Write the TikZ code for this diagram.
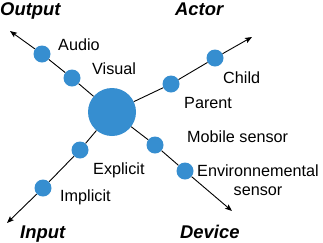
\documentclass[tikz,border=0pt]{standalone}
\usepackage{fontspec}
\setmainfont{Liberation Sans}
\usetikzlibrary{arrows.meta}
\definecolor{dotblue}{RGB}{54,142,208}

\begin{document}
\begin{tikzpicture}[x=1pt, y=-1pt,
    dot/.style={circle, fill=dotblue, inner sep=0pt, minimum size=17pt},
    hubdot/.style={circle, fill=dotblue, inner sep=0pt, minimum size=48pt},
    lbl/.style={anchor=base west, inner sep=0pt, font=\fontsize{16.2}{18.5}\selectfont},
    axis/.style={anchor=base west, inner sep=0pt, font=\fontsize{18.4}{20}\selectfont\bfseries\itshape},
    line/.style={line width=0.9pt, -{Stealth[length=7pt, width=5.5pt, inset=1.5pt]}}]
    \useasboundingbox (0,0) rectangle (323,242);
 	\node[hubdot] (Hub) at (112,112) {};
 	\node[dot] (Visual) at (72,78) {};
 	\node[dot] (Audio) at (42,54) {};
 	\node[dot] (Parent) at (171,84) {};
 	\node[dot] (Child) at (215,58) {};
 	\node[dot] (Explicit) at (80,150) {};
 	\node[dot] (Implicit) at (43,188) {};
 	\node[dot] (Mobile) at (155,145) {};
 	\node[dot] (Env) at (185,171) {};
 	\coordinate (OutTip) at (10,31);
 	\coordinate (ActTip) at (252,37);
 	\coordinate (InTip) at (7,223);
 	\coordinate (DevTip) at (232,211);
 	\draw[line] (Hub) -- (Visual) -- (Audio) -- (OutTip);
 	\draw[line] (Hub) -- (Parent) -- (Child) -- (ActTip);
 	\draw[line] (Hub) -- (Explicit) -- (Implicit) -- (InTip);
 	\draw[line] (Hub) -- (Mobile) -- (Env) -- (DevTip);
 	\node[axis] (OutputT) at (0,15) {Output};
 	\node[axis] (ActorT) at (175,15) {Actor};
 	\node[axis] (InputT) at (20,238) {Input};
 	\node[axis] (DeviceT) at (180,238) {Device};
 	\node[lbl] (AudioL) at (58,50) {Audio};
 	\node[lbl] (VisualL) at (92,74) {Visual};
 	\node[lbl] (ChildL) at (223,83) {Child};
 	\node[lbl] (ParentL) at (184,108) {Parent};
 	\node[lbl] (MobileL) at (187,142) {Mobile sensor};
 	\node[lbl, anchor=north, align=center] (EnvL) at (258,165) {Environnemental\\sensor};
 	\node[lbl] (ExplicitL) at (93,174) {Explicit};
 	\node[lbl] (ImplicitL) at (60,201) {Implicit};
 	\end{tikzpicture}
\end{document}
